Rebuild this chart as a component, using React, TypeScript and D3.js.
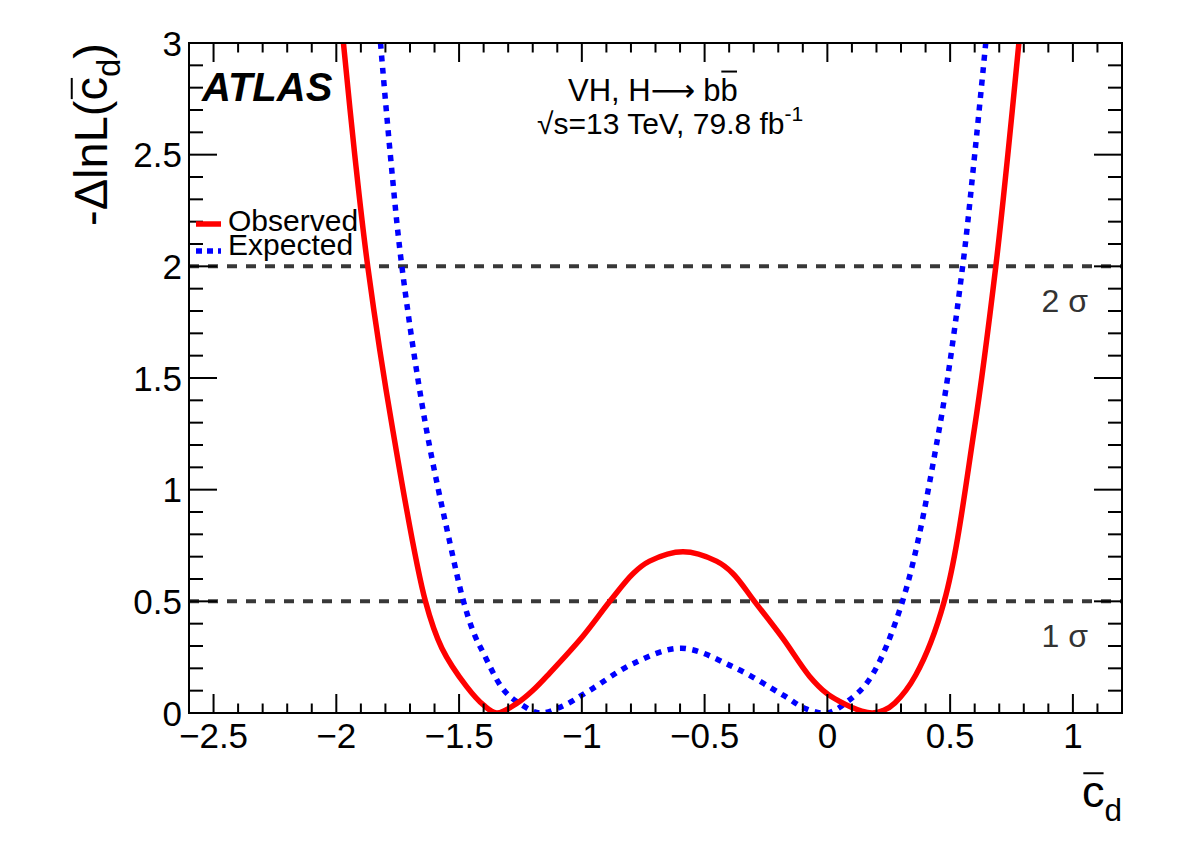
import { useRef, useEffect } from 'react';
import * as d3 from 'd3';

// -ΔlnL scan points
const observedX = [-1.971, -1.925, -1.872, -1.77, -1.637, -1.57, -1.469, -1.401, -1.347, -1.265, -1.198, -1.13, -0.995, -0.886, -0.791, -0.724, -0.588, -0.452, -0.385, -0.297, -0.182, -0.073, -0.005, 0.05, 0.1, 0.14, 0.184, 0.23, 0.275, 0.36, 0.476, 0.598, 0.686, 0.735, 0.78];
const observedNll = [3.0, 2.5, 2.0, 1.267, 0.5, 0.29, 0.118, 0.036, 0.0, 0.043, 0.103, 0.18, 0.345, 0.5, 0.625, 0.68, 0.722, 0.68, 0.625, 0.5, 0.335, 0.165, 0.09, 0.052, 0.025, 0.008, 0.0, 0.012, 0.045, 0.17, 0.5, 1.267, 2.0, 2.5, 3.0];

const expectedX = [-1.82, -1.78, -1.733, -1.638, -1.537, -1.482, -1.44, -1.401, -1.319, -1.25, -1.17, -1.08, -0.97, -0.79, -0.595, -0.385, -0.18, -0.09, 0.0, 0.08, 0.171, 0.306, 0.455, 0.551, 0.6, 0.645];
const expectedNll = [3.0, 2.5, 2.0, 1.3, 0.76, 0.5, 0.358, 0.268, 0.104, 0.04, 0.0, 0.03, 0.1, 0.222, 0.29, 0.207, 0.08, 0.02, 0.0, 0.05, 0.15, 0.5, 1.267, 2.0, 2.5, 3.0];

const xTickValues = [-2.5, -2, -1.5, -1, -0.5, 0, 0.5, 1];
const xTickLabels = ['−2.5', '−2', '−1.5', '−1', '−0.5', '0', '0.5', '1'];
const yTickValues = [0, 0.5, 1, 1.5, 2, 2.5, 3];
const yTickLabels = ['0', '0.5', '1', '1.5', '2', '2.5', '3'];

const sigmaLevels = [0.5, 2];
const sigmaLabels = ['1 σ', '2 σ'];

const legendNames = ['Observed', 'Expected'];
const legendColors = ['#ff0000', '#0000ff'];

const FONT = '"Liberation Sans", Arial, Helvetica, sans-serif';

type Piece = { text: string; size: number; dy?: number; overline?: number; gap?: number; family?: string };

// draws text pieces one after another, returns total advance
const drawPieces = (g: d3.Selection<SVGGElement, unknown, null, undefined>, pieces: Piece[]) => {
  let cx = 0;
  pieces.forEach((p) => {
    const t = g
      .append('text')
      .attr('x', cx)
      .attr('y', p.dy ?? 0)
      .attr('font-size', p.size)
      .attr('font-family', p.family ?? null)
      .text(p.text);
    const w = (t.node() as SVGTextElement).getComputedTextLength();
    if (p.overline) {
      g.append('line')
        .attr('x1', cx + p.size * 0.03)
        .attr('x2', cx + w - p.size * 0.02)
        .attr('y1', (p.dy ?? 0) - p.overline * p.size)
        .attr('y2', (p.dy ?? 0) - p.overline * p.size)
        .attr('stroke', 'black')
        .attr('stroke-width', 2);
    }
    cx += w + (p.gap ?? 0);
  });
  return cx;
};

const LikelihoodScan = () => {
  const svgRef = useRef<SVGSVGElement>(null);

  useEffect(() => {
    if (!svgRef.current) return;

    const width = 1182;
    const height = 850;
    const marginTop = 43;
    const marginRight = 60;
    const marginBottom = 137;
    const marginLeft = 189;

    const svg = d3.select(svgRef.current).attr('width', width).attr('height', height);
    svg.selectAll('*').remove();
    svg.attr('font-family', FONT);

    const x = d3.scaleLinear().domain([-2.6, 1.2]).range([marginLeft, width - marginRight]);
    const y = d3.scaleLinear().domain([0, 3]).range([height - marginBottom, marginTop]);

    const x0 = marginLeft;
    const x1 = width - marginRight;
    const y0 = height - marginBottom;
    const y1 = marginTop;

    svg
      .append('clipPath')
      .attr('id', 'frame-clip')
      .append('rect')
      .attr('x', x0)
      .attr('y', y1)
      .attr('width', x1 - x0)
      .attr('height', y0 - y1);

    // 1σ / 2σ reference lines
    svg
      .append('g')
      .selectAll('line')
      .data(sigmaLevels)
      .enter()
      .append('line')
      .attr('x1', x0)
      .attr('x2', x1)
      .attr('y1', (d) => y(d))
      .attr('y2', (d) => y(d))
      .attr('stroke', '#383838')
      .attr('stroke-width', 4)
      .attr('stroke-dasharray', '10 9');

    svg
      .append('g')
      .selectAll('text')
      .data(sigmaLevels)
      .enter()
      .append('text')
      .attr('x', 1088)
      .attr('y', (d) => y(d) + 46)
      .attr('text-anchor', 'end')
      .attr('font-size', 32)
      .attr('fill', '#333')
      .text((_, i) => sigmaLabels[i]);

    const line = d3
      .line<[number, number]>()
      .x((d) => x(d[0]))
      .y((d) => y(d[1]))
      .curve(d3.curveCatmullRom.alpha(0.5));

    const curves = svg.append('g').attr('clip-path', 'url(#frame-clip)');

    curves
      .append('path')
      .datum(expectedX.map((v, i) => [v, expectedNll[i]] as [number, number]))
      .attr('d', line)
      .attr('fill', 'none')
      .attr('stroke', legendColors[1])
      .attr('stroke-width', 5.5)
      .attr('stroke-dasharray', '6 6.5');

    curves
      .append('path')
      .datum(observedX.map((v, i) => [v, observedNll[i]] as [number, number]))
      .attr('d', line)
      .attr('fill', 'none')
      .attr('stroke', legendColors[0])
      .attr('stroke-width', 5.5);

    // ticks on all four sides
    const xMinor = d3.range(-26, 13).map((i) => i / 10);
    const yMinor = d3.range(0, 31).map((i) => i / 10);
    const isMajor = (v: number) => Math.abs(v * 2 - Math.round(v * 2)) < 1e-6;

    const ticks = svg.append('g').attr('stroke', 'black').attr('stroke-width', 2);
    xMinor.forEach((v) => {
      const len = isMajor(v) ? 19 : 9.5;
      ticks.append('line').attr('x1', x(v)).attr('x2', x(v)).attr('y1', y0).attr('y2', y0 - len);
      ticks.append('line').attr('x1', x(v)).attr('x2', x(v)).attr('y1', y1).attr('y2', y1 + len);
    });
    yMinor.forEach((v) => {
      const len = isMajor(v) ? 28 : 14;
      ticks.append('line').attr('x1', x0).attr('x2', x0 + len).attr('y1', y(v)).attr('y2', y(v));
      ticks.append('line').attr('x1', x1).attr('x2', x1 - len).attr('y1', y(v)).attr('y2', y(v));
    });

    svg
      .append('rect')
      .attr('x', x0)
      .attr('y', y1)
      .attr('width', x1 - x0)
      .attr('height', y0 - y1)
      .attr('fill', 'none')
      .attr('stroke', 'black')
      .attr('stroke-width', 2);

    // tick labels
    svg
      .append('g')
      .selectAll('text')
      .data(xTickValues)
      .enter()
      .append('text')
      .attr('x', (d) => x(d))
      .attr('y', y0 + 35)
      .attr('text-anchor', 'middle')
      .attr('font-size', 35)
      .text((_, i) => xTickLabels[i]);

    svg
      .append('g')
      .selectAll('text')
      .data(yTickValues)
      .enter()
      .append('text')
      .attr('x', x0 - 7)
      .attr('y', (d) => y(d) + 12.5)
      .attr('text-anchor', 'end')
      .attr('font-size', 35)
      .text((_, i) => yTickLabels[i]);

    // axis titles
    const xTitle = svg.append('g');
    const xw = drawPieces(xTitle, [
      { text: 'c', size: 45, overline: 0.75 },
      { text: 'd', size: 31.5, dy: 14 },
    ]);
    xTitle.attr('transform', `translate(${x1 - xw},807)`);

    const yTitle = svg.append('g');
    const yw = drawPieces(yTitle, [
      { text: '-ΔlnL(', size: 47 },
      { text: 'c', size: 47, overline: 0.75 },
      { text: 'd', size: 33, dy: 13 },
      { text: ')', size: 47 },
    ]);
    yTitle.attr('transform', `translate(107,${y1 + yw}) rotate(-90)`);

    // labels
    svg
      .append('text')
      .attr('x', 202)
      .attr('y', 101)
      .attr('font-size', 40)
      .attr('font-weight', 'bold')
      .attr('font-style', 'italic')
      .text('ATLAS');

    const process = svg.append('g').attr('transform', 'translate(568,101)');
    drawPieces(process, [
      { text: 'VH, H', size: 31 },
      { text: '⟶', size: 31, gap: 8, family: '"DejaVu Sans", sans-serif' },
      { text: 'b', size: 31 },
      { text: 'b', size: 31, overline: 0.95 },
    ]);

    const energy = svg.append('g').attr('transform', 'translate(537,134)');
    drawPieces(energy, [
      { text: '√s=13 TeV, 79.8 fb', size: 30 },
      { text: '-1', size: 21, dy: -13 },
    ]);

    // legend
    const legend = svg.append('g');
    legendNames.forEach((name, i) => {
      const ly = 224 + i * 27;
      legend
        .append('line')
        .attr('x1', 196)
        .attr('x2', 221)
        .attr('y1', ly)
        .attr('y2', ly)
        .attr('stroke', legendColors[i])
        .attr('stroke-width', 5.5)
        .attr('stroke-dasharray', i === 1 ? '6 5' : null);
      legend
        .append('text')
        .attr('x', 228)
        .attr('y', 231 + i * 24)
        .attr('font-size', 30)
        .text(name);
    });
  }, []);

  return <svg ref={svgRef} style={{ position: 'absolute', left: 0, top: 0, background: 'white' }}></svg>;
};

export default function App() {
  return <LikelihoodScan />;
}
